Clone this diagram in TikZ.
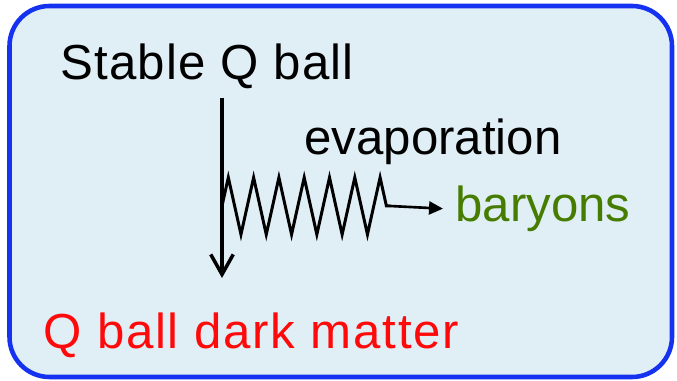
\documentclass[tikz,border=0pt]{standalone}
\usepackage{fontspec}
\setmainfont{Liberation Sans}
\usetikzlibrary{arrows.meta,decorations.pathmorphing}
\definecolor{panelblue}{RGB}{20,50,240}
\definecolor{panelfill}{RGB}{224,238,246}
\definecolor{dmred}{RGB}{255,10,10}
\definecolor{baryongreen}{RGB}{70,125,0}

\begin{document}
\begin{tikzpicture}[
    x=0.02cm, y=0.02cm,
    panel/.style={draw=panelblue, fill=panelfill, line width=2.6pt, rounded corners=0.8cm},
    txt/.style={anchor=base west, inner sep=0pt, font=\fontsize{28}{32}\selectfont},
    flow/.style={-{Straight Barb[length=4mm,width=4.5mm]}, line width=2pt},
    emit/.style={decorate, decoration={zigzag, segment length=0.506cm, amplitude=0.57cm}, line width=1.7pt},
    emitarrow/.style={-{Triangle[length=2.8mm,width=2.6mm]}, line width=1.5pt, shorten >=0.24cm}
]
    \useasboundingbox (0,0) rectangle (677,381);
    \draw[panel] (9.5,4) rectangle (672,375);

    \node[txt] (stable) at (60,301) {\addfontfeature{LetterSpace=2.4}Stable Q ball};
    \node[txt] (evap) at (304,226) {evaporation};
    \node[txt, text=baryongreen] (baryons) at (455,159) {baryons};
    \node[txt, text=dmred] (dm) at (43,32) {\addfontfeature{LetterSpace=3.6}Q ball dark matter};

    \coordinate (drop) at (222,283);
    \coordinate (land) at (222,103);
    \coordinate (zstart) at (222,175);
    \coordinate (zend) at (390,175);

    \draw[flow] (drop) -- (land);
    \draw[emit] (zstart) -- (zend);
    \draw[emitarrow] (zend) -- (baryons.west);
\end{tikzpicture}
\end{document}
